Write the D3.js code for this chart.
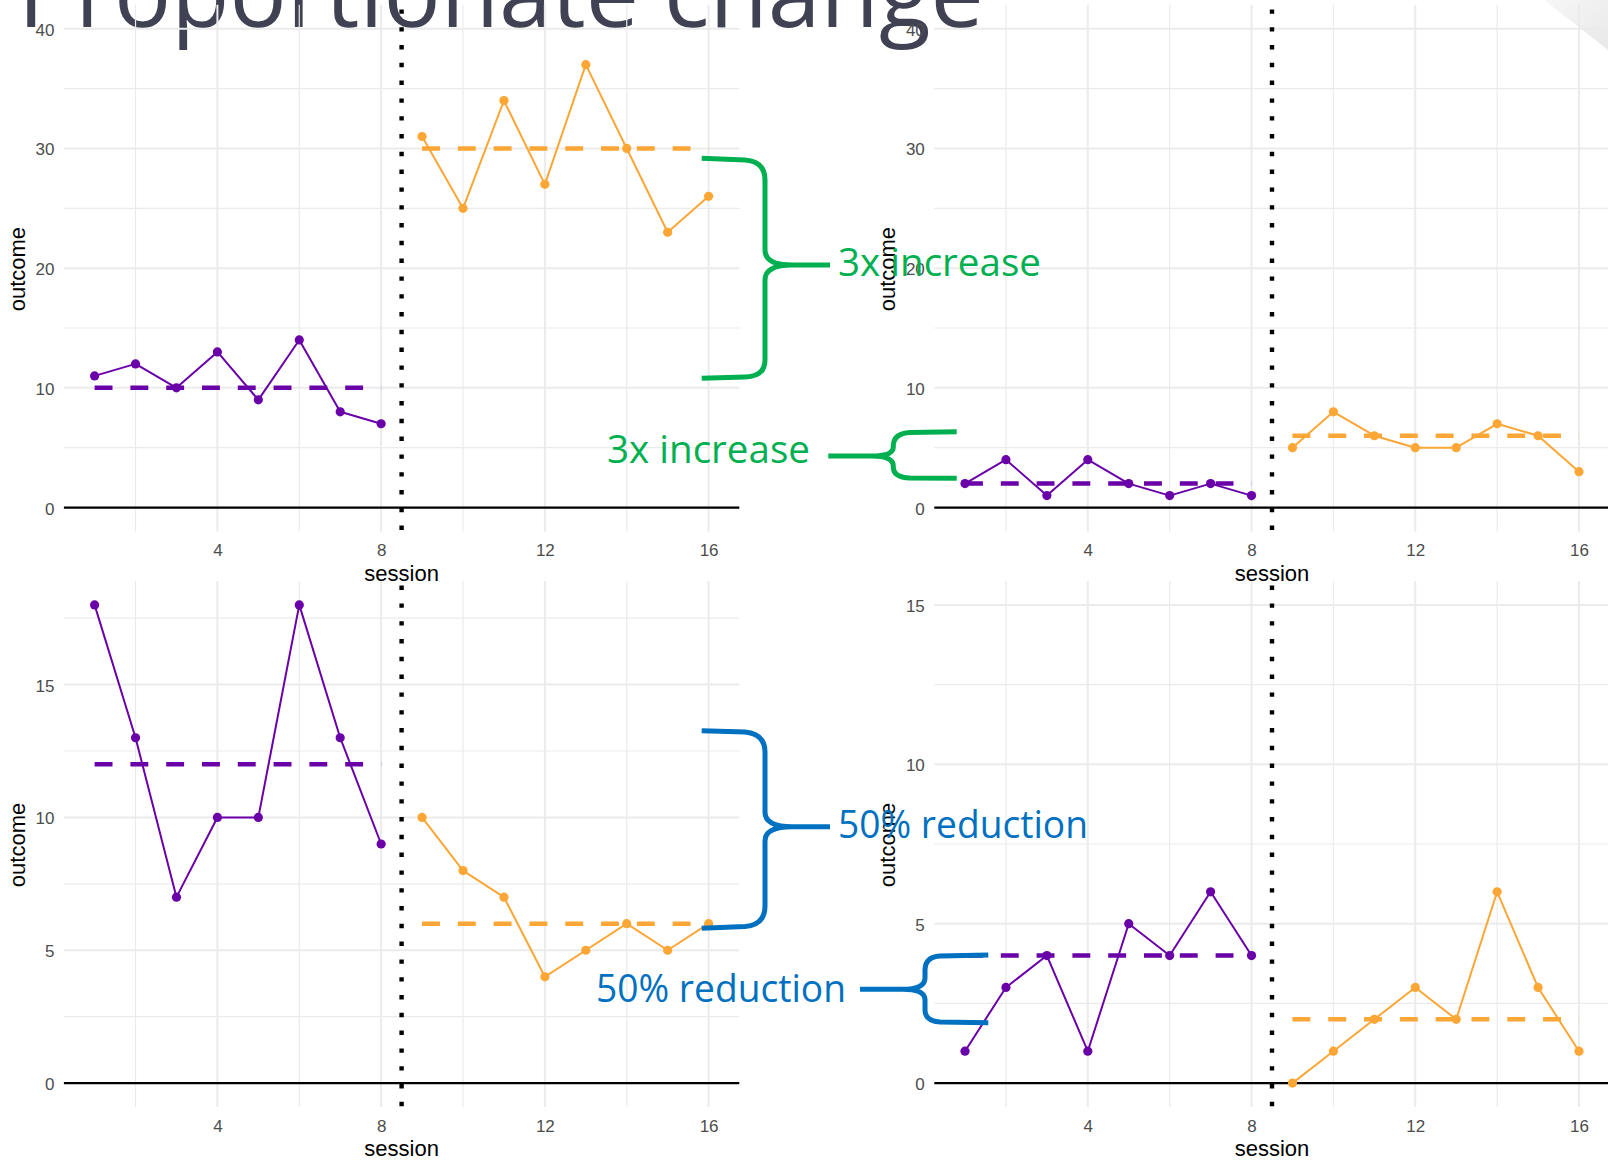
<!DOCTYPE html>
<html>
<head>
<meta charset="utf-8">
<script src="https://cdn.jsdelivr.net/npm/d3@7"></script>
<style>
html, body { margin: 0; padding: 0; background: #ffffff; overflow: hidden; }
svg { display: block; }
</style>
</head>
<body>
<svg id="chart" width="1608" height="1162"></svg>
<script>
// ---------------- data ----------------
const baselineSessions = [1, 2, 3, 4, 5, 6, 7, 8];
const treatmentSessions = [9, 10, 11, 12, 13, 14, 15, 16];
const phaseChange = 8.5;
const xTicks = [4, 8, 12, 16];
const xMinorTicks = [2, 6, 10, 14];

// top-left: 3x increase (large)
const tlBaseline = [11, 12, 10, 13, 9, 14, 8, 7];
const tlTreatment = [31, 25, 34, 27, 37, 30, 23, 26];
const tlLevels = [10, 30];
// top-right: 3x increase (small)
const trBaseline = [2, 4, 1, 4, 2, 1, 2, 1];
const trTreatment = [5, 8, 6, 5, 5, 7, 6, 3];
const trLevels = [2, 6];
// bottom-left: 50% reduction (large)
const blBaseline = [18, 13, 7, 10, 10, 18, 13, 9];
const blTreatment = [10, 8, 7, 4, 5, 6, 5, 6];
const blLevels = [12, 6];
// bottom-right: 50% reduction (small)
const brBaseline = [1, 3, 4, 1, 5, 4, 6, 4];
const brTreatment = [0, 1, 2, 3, 2, 6, 3, 1];
const brLevels = [4, 2];

const topYLimits = [0, 40];
const blYLimits = [0, 18];
const brYLimits = [0, 15];
const topYTicks = [0, 10, 20, 30, 40];
const topYMinor = [5, 15, 25, 35];
const bottomYTicks = [0, 5, 10, 15];
const blYMinor = [2.5, 7.5, 12.5, 17.5];
const brYMinor = [2.5, 7.5, 12.5];

const titleText = "Proportionate change";
const xTitle = "session";
const yTitle = "outcome";
const increaseLabel = "3x increase";
const reductionLabel = "50% reduction";

// ---------------- style ----------------
const purple = "#6A00A8";
const orange = "#FCA636";
const green = "#00B050";
const blue = "#0070C0";
const gridCol = "#ebebeb";
const axisFont = "'Liberation Sans', Arial, Helvetica, sans-serif";
const annoFont = "'Open Sans', 'Noto Sans', sans-serif";

const svg = d3.select("#chart");
svg.append("rect").attr("width", 1608).attr("height", 1162).attr("fill", "#ffffff");

// faint slide decoration in the top-right corner
const defs = svg.append("defs");
const grad = defs.append("linearGradient").attr("id", "cornerGrad")
  .attr("x1", "0").attr("y1", "0").attr("x2", "1").attr("y2", "1");
grad.append("stop").attr("offset", "0").attr("stop-color", "#f7f7f7");
grad.append("stop").attr("offset", "1").attr("stop-color", "#e8e8e8");
svg.append("path").attr("d", "M1544,0 L1608,0 L1608,50 Z").attr("fill", "url(#cornerGrad)");

// title (partly cut off at top)
svg.append("text")
  .attr("x", 18).attr("y", 27)
  .attr("font-family", annoFont)
  .attr("font-size", 95)
  .attr("fill", "#404254")
  .attr("textLength", 966).attr("lengthAdjust", "spacingAndGlyphs")
  .text(titleText);

const panelW = 675.4;
const panels = [
  { base: tlBaseline, treat: tlTreatment, levels: tlLevels, lim: topYLimits, ticks: topYTicks, minor: topYMinor, x0: 63.9, y0: 4.8, y1: 531.5 },
  { base: trBaseline, treat: trTreatment, levels: trLevels, lim: topYLimits, ticks: topYTicks, minor: topYMinor, x0: 934.3, y0: 4.8, y1: 531.5 },
  { base: blBaseline, treat: blTreatment, levels: blLevels, lim: blYLimits, ticks: bottomYTicks, minor: blYMinor, x0: 63.9, y0: 581, y1: 1107 },
  { base: brBaseline, treat: brTreatment, levels: brLevels, lim: brYLimits, ticks: bottomYTicks, minor: brYMinor, x0: 934.3, y0: 581, y1: 1107 }
];

function drawPanel(p) {
  const g = svg.append("g");
  const x = d3.scaleLinear().domain([0.25, 16.75]).range([p.x0, p.x0 + panelW]);
  const span = p.lim[1] - p.lim[0];
  const y = d3.scaleLinear().domain([p.lim[0] - 0.05 * span, p.lim[1] + 0.05 * span]).range([p.y1, p.y0]);
  const [xa, xb] = x.range();

  // minor grid
  g.selectAll(null).data(p.minor).join("line")
    .attr("x1", xa).attr("x2", xb).attr("y1", d => y(d)).attr("y2", d => y(d))
    .attr("stroke", gridCol).attr("stroke-width", 1.2);
  g.selectAll(null).data(xMinorTicks).join("line")
    .attr("x1", d => x(d)).attr("x2", d => x(d)).attr("y1", p.y0).attr("y2", p.y1)
    .attr("stroke", gridCol).attr("stroke-width", 1.2);
  // major grid
  g.selectAll(null).data(p.ticks).join("line")
    .attr("x1", xa).attr("x2", xb).attr("y1", d => y(d)).attr("y2", d => y(d))
    .attr("stroke", gridCol).attr("stroke-width", 2);
  g.selectAll(null).data(xTicks).join("line")
    .attr("x1", d => x(d)).attr("x2", d => x(d)).attr("y1", p.y0).attr("y2", p.y1)
    .attr("stroke", gridCol).attr("stroke-width", 2);

  // axes
  const xAxis = g.append("g").attr("transform", `translate(0,${p.y1})`)
    .call(d3.axisBottom(x).tickValues(xTicks).tickSize(0).tickPadding(12.6).tickFormat(d3.format("d")));
  const yAxis = g.append("g").attr("transform", `translate(${xa},0)`)
    .call(d3.axisLeft(y).tickValues(p.ticks).tickSize(0).tickPadding(9.5).tickFormat(d3.format("d")));
  [xAxis, yAxis].forEach(a => {
    a.select(".domain").remove();
    a.selectAll("text").attr("font-family", axisFont).attr("font-size", 17).attr("fill", "#4d4d4d");
  });
  yAxis.selectAll("text").attr("dy", "0.38em");

  // axis titles
  g.append("text").attr("x", (xa + xb) / 2).attr("y", p.y1 + 49)
    .attr("text-anchor", "middle").attr("font-family", axisFont).attr("font-size", 22).attr("fill", "#000")
    .text(xTitle);
  g.append("text")
    .attr("transform", `translate(${xa - 39.3},${(p.y0 + p.y1) / 2 + 1}) rotate(-90)`)
    .attr("text-anchor", "middle").attr("font-family", axisFont).attr("font-size", 22).attr("fill", "#000")
    .text(yTitle);

  // zero line
  g.append("line").attr("x1", xa).attr("x2", xb).attr("y1", y(0)).attr("y2", y(0))
    .attr("stroke", "#000").attr("stroke-width", 2.2);

  // phase change line
  g.append("line").attr("x1", x(phaseChange)).attr("x2", x(phaseChange))
    .attr("y1", p.y0).attr("y2", p.y1)
    .attr("stroke", "#000").attr("stroke-width", 4.4)
    .attr("stroke-dasharray", "4.4 13.4").attr("stroke-dashoffset", -4.6);

  const phases = [
    { s: baselineSessions, v: p.base, level: p.levels[0], col: purple },
    { s: treatmentSessions, v: p.treat, level: p.levels[1], col: orange }
  ];
  const line = d3.line().x(d => x(d[0])).y(d => y(d[1]));
  phases.forEach(ph => {
    const pts = ph.s.map((s, i) => [s, ph.v[i]]);
    g.append("path").attr("d", line(pts)).attr("fill", "none")
      .attr("stroke", ph.col).attr("stroke-width", 2).attr("stroke-linejoin", "round");
    g.selectAll(null).data(pts).join("circle")
      .attr("cx", d => x(d[0])).attr("cy", d => y(d[1])).attr("r", 4.6).attr("fill", ph.col);
    g.append("line")
      .attr("x1", x(ph.s[0])).attr("x2", x(ph.s[ph.s.length - 1]))
      .attr("y1", y(ph.level)).attr("y2", y(ph.level))
      .attr("stroke", ph.col).attr("stroke-width", 4.5).attr("stroke-dasharray", "17.9 17.9");
  });
}
panels.forEach(drawPanel);

// ---------------- annotations ----------------
const braces = [
  { col: green, d: "M701.7,158.3 L745,160 Q765,161.5 765,180 L765,250 Q765,265 792,265 L830,265 M792,265 Q765,265 765,280 L765,360 Q765,376.5 745,377 L701.7,378.3" },
  { col: green, d: "M956.7,431.7 L910,432.5 Q893.3,433.5 893.3,446 L893.3,447 Q893.3,456 872,456 L828.3,456 M872,456 Q893.3,456 893.3,466 L893.3,467 Q893.3,477.5 910,478 L956.7,478.3" },
  { col: blue, d: "M701.7,730.7 L745,732 Q765,734 765,752 L765,812 Q765,826.7 792,826.7 L830,826.7 M792,826.7 Q765,826.7 765,841 L765,906 Q765,925 745,926.5 L701.7,928.3" },
  { col: blue, d: "M988.3,955 L940,956 Q925,957 925,970 L925,978 Q925,989.3 903,989.3 L860,989.3 M903,989.3 Q925,989.3 925,1000 L925,1010 Q925,1021 940,1022 L988.3,1022.7" }
];
svg.selectAll(null).data(braces).join("path")
  .attr("d", d => d.d).attr("fill", "none")
  .attr("stroke", d => d.col).attr("stroke-width", 5)
  .attr("stroke-linejoin", "round").attr("stroke-linecap", "butt");

const labels = [
  { t: increaseLabel, x: 838, y: 276, col: green, len: 203 },
  { t: increaseLabel, x: 607, y: 463, col: green, len: 203 },
  { t: reductionLabel, x: 838, y: 838, col: blue, len: 250 },
  { t: reductionLabel, x: 596, y: 1002, col: blue, len: 250 }
];
svg.selectAll(null).data(labels).join("text")
  .attr("x", d => d.x).attr("y", d => d.y)
  .attr("font-family", annoFont).attr("font-size", 38)
  .attr("fill", d => d.col)
  .attr("textLength", d => d.len).attr("lengthAdjust", "spacingAndGlyphs")
  .text(d => d.t);
</script>
</body>
</html>
